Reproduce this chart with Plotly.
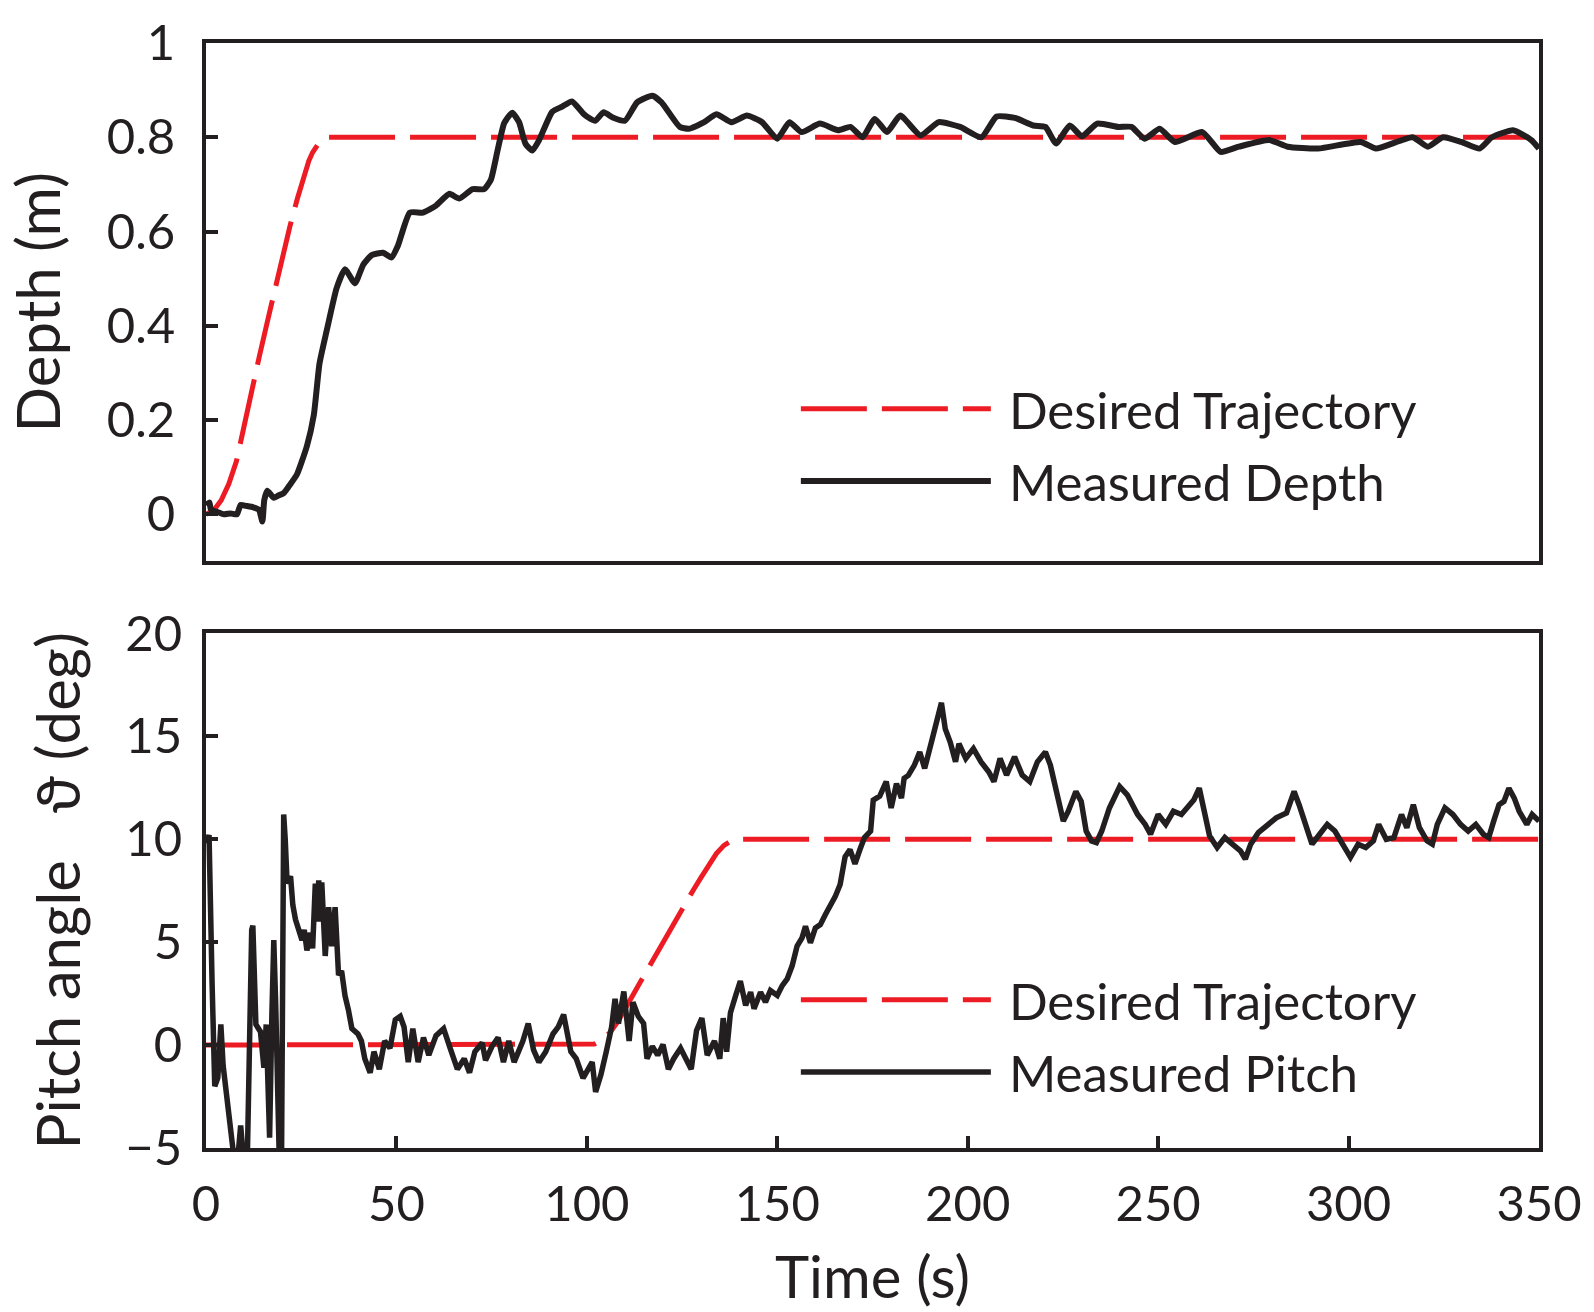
import plotly.graph_objects as go

# ---------------- data ----------------
depth_ref_t = [0, 2, 4, 6, 8, 10, 12, 14, 16, 18, 20, 22, 24, 25, 26, 27, 28, 29, 30, 31, 32, 350]
depth_ref_v = [0, 0.008, 0.03, 0.065, 0.113, 0.19, 0.265, 0.335, 0.405, 0.475, 0.545, 0.61, 0.67,
               0.70, 0.728, 0.75, 0.768, 0.782, 0.792, 0.797, 0.8, 0.8]

depth_measured = [
    (0, 0.02), (0.9, 0.025), (1.3, 0.01), (3, 0.005), (4.7, 0.0), (6.5, 0.002), (8.1, 0.0),
    (9.1, 0.02), (10.5, 0.018), (12.4, 0.015), (13.9, 0.01), (14.8, -0.015), (15.3, 0.03),
    (16.1, 0.05), (17.8, 0.035), (19, 0.04), (20.4, 0.045), (21.8, 0.06), (23.9, 0.085),
    (26.5, 0.145), (28.3, 0.21), (29.8, 0.32), (31.7, 0.39), (34.3, 0.48), (36.5, 0.52),
    (39.1, 0.49), (41.3, 0.53), (43.5, 0.55), (46.5, 0.555), (48.7, 0.545), (50.4, 0.57),
    (53.5, 0.64), (57, 0.64), (60.4, 0.655), (63.9, 0.68), (66.5, 0.67), (70, 0.69),
    (73, 0.69), (74.8, 0.71), (76.5, 0.77), (78.3, 0.83), (80.4, 0.852), (82.2, 0.832),
    (83.9, 0.786), (85.7, 0.772), (87.4, 0.793), (90.9, 0.854), (93.5, 0.865), (96.1, 0.876),
    (99.1, 0.85), (100.4, 0.842), (102.2, 0.835), (104.4, 0.853), (106.8, 0.842), (110, 0.835),
    (113.2, 0.874), (117.2, 0.888), (119.6, 0.874), (124.4, 0.822), (126.8, 0.818),
    (130.8, 0.832), (134, 0.849), (138, 0.832), (142, 0.846), (146, 0.832), (150, 0.797),
    (153.2, 0.832), (156.4, 0.811), (161.2, 0.829), (166, 0.815), (169.2, 0.822), (172.4, 0.8),
    (175.6, 0.839), (178.8, 0.811), (182.3, 0.846), (187.6, 0.804), (192.4, 0.832),
    (198, 0.822), (203.6, 0.8), (207.6, 0.844), (212.4, 0.841), (217.2, 0.825), (220.4, 0.822),
    (223.2, 0.787), (226.8, 0.825), (230, 0.802), (234, 0.829), (239.6, 0.822), (243, 0.822),
    (246.4, 0.797), (250.4, 0.818), (254.4, 0.79), (261.6, 0.811), (266.4, 0.769),
    (271.2, 0.78), (279.2, 0.794), (284, 0.78), (292, 0.776), (303.2, 0.79), (307.2, 0.776),
    (316.8, 0.8), (320.8, 0.78), (324.8, 0.8), (329.6, 0.79), (334.4, 0.776), (337.6, 0.8),
    (343.2, 0.815), (348, 0.794), (350, 0.776),
]

pitch_ref_t = [0, 100, 102, 104, 106, 108, 110, 112, 114, 116, 118, 120, 122, 124, 126, 128, 130, 132, 134, 136, 138, 140, 350]
pitch_ref_v = [0, 0, 0.05, 0.25, 0.6, 1.1, 1.8, 2.4, 3.05, 3.7, 4.4, 5.05, 5.7, 6.35, 6.95, 7.55, 8.15, 8.75, 9.3, 9.7, 9.93, 10, 10]

pitch_measured = [
    (0, 9.8), (0.8, 10.2), (1.6, 3.0), (2.3, -2.0), (3.1, -1.6), (3.9, 1.0), (4.5, -1.0),
    (4.9, -1.7), (5.7, -3.2), (6.5, -4.2), (7.2, -5.6), (7.8, -6.2), (8.5, -5.2), (9.1, -3.9),
    (9.6, -5.0), (10.2, -6.5), (10.8, -6.0), (11.3, 0.0), (12.0, 5.6), (12.3, 5.8), (12.7, 3.0),
    (13.1, 1.0), (14.3, 0.65), (15.2, -1.1), (15.8, 1.0), (16.7, -4.5), (17.3, 1.5),
    (17.8, 5.1), (18.3, 2.0), (18.7, -3.2), (19.3, -6.0), (19.8, -6.5), (20.1, 0.0),
    (20.4, 11.2), (20.8, 10.0), (21.3, 7.85), (22.2, 8.2), (22.8, 6.8), (23.5, 6.1),
    (24.3, 5.5), (25.2, 5.1), (25.8, 5.6), (26.5, 4.6), (27.4, 5.45), (28.0, 4.7),
    (28.7, 7.85), (29.1, 6.0), (29.6, 8.0), (30.0, 6.0), (30.4, 7.9), (30.9, 5.5),
    (31.3, 4.33), (32.2, 6.7), (33.0, 4.8), (33.9, 6.7), (34.8, 3.4), (35.6, 3.6),
    (36.5, 2.4), (37.4, 1.7), (38.3, 0.8), (39.9, 0.54), (40.8, 0.2), (41.7, -0.66),
    (43.1, -1.34), (44.1, -0.32), (45.5, -1.17), (46.9, 0.2), (48.3, -0.15), (49.7, 1.23),
    (51.0, 1.4), (52.0, 0.88), (53.1, -0.83), (54.3, 0.8), (55.7, -0.83), (57.1, 0.37),
    (58.5, -0.49), (60.4, 0.46), (62.4, 0.8), (64.1, -0.15), (66.0, -1.17), (67.8, -0.66),
    (69.2, -1.34), (70.6, -0.32), (72.5, 0.11), (73.4, -0.74), (75.1, -0.06), (76.7, 0.37),
    (78.1, -0.83), (79.5, 0.2), (80.9, -0.83), (83.2, 0.2), (84.6, 1.05), (86.0, -0.23),
    (87.4, -0.83), (89.2, -0.32), (91.1, 0.54), (92.5, 0.88), (93.9, 1.48), (95.8, -0.32),
    (97.2, -0.66), (99.0, -1.6), (100.4, -1.17), (101.4, -0.83), (102.3, -2.28),
    (103.7, -1.43), (105.1, -0.32), (106.5, 0.88), (107.4, 2.25), (108.3, 1.05),
    (109.7, 2.6), (111.1, 0.2), (112.1, 2.08), (113.5, 1.4), (114.9, 1.05), (115.8, -0.66),
    (117.2, -0.06), (118.6, -0.49), (120.0, 0.03), (121.4, -1.17), (122.8, -0.66),
    (124.6, -0.15), (126.0, -0.66), (127.4, -1.17), (128.8, 0.71), (130.2, 1.31),
    (131.6, -0.49), (133.5, 0.2), (134.9, -0.66), (135.8, 1.31), (136.7, -0.32),
    (137.7, 1.57), (139.1, 2.42), (140.3, 3.11), (141.7, 1.93), (143.0, 2.57), (143.9, 1.77),
    (145.6, 2.57), (146.9, 2.09), (148.2, 2.65), (150.0, 2.41), (151.3, 2.89), (152.6, 3.21),
    (153.9, 3.85), (155.2, 4.81), (156.5, 5.21), (157.4, 5.77), (158.7, 4.97), (160.0, 5.69),
    (161.3, 5.85), (162.6, 6.33), (163.9, 6.73), (165.2, 7.21), (166.5, 7.8), (167.8, 9.15),
    (169.1, 9.5), (170.4, 8.8), (171.7, 9.5), (172.9, 10.08), (174.5, 10.4), (175.2, 11.9),
    (176.9, 12.1), (178.6, 12.8), (179.9, 11.52), (181.3, 12.7), (182.6, 12.0),
    (183.3, 12.96), (184.4, 13.1), (186.0, 13.6), (187.4, 14.24), (188.7, 13.44),
    (190.7, 14.88), (192.1, 15.84), (193.1, 16.63), (194.1, 15.36), (195.4, 14.72),
    (196.8, 13.76), (197.7, 14.64), (199.5, 13.92), (201.5, 14.4), (203.5, 13.76),
    (205.5, 13.28), (206.9, 12.8), (208.5, 13.92), (210.2, 13.12), (212.3, 14.0),
    (214.3, 13.12), (216.3, 12.8), (218.3, 13.76), (220.4, 14.24), (221.7, 13.6),
    (223.7, 12.0), (225.1, 10.88), (226.4, 11.36), (228.4, 12.32), (229.8, 11.84),
    (231.1, 10.4), (232.5, 9.92), (233.8, 9.84), (235.2, 10.4), (237.2, 11.52),
    (239.9, 12.56), (241.9, 12.16), (244.6, 11.2), (246.6, 10.72), (248.0, 10.24),
    (250.0, 11.2), (252.0, 10.72), (254.0, 11.36), (256.1, 11.2), (258.1, 11.68),
    (259.4, 11.92), (260.8, 12.48), (262.1, 11.2), (263.5, 10.16), (265.5, 9.6),
    (267.5, 10.08), (269.5, 9.76), (271.6, 9.44), (272.9, 9.04), (274.3, 9.76),
    (276.3, 10.32), (278.3, 10.64), (281.0, 11.04), (283.7, 11.28), (285.7, 12.32),
    (287.0, 11.68), (288.4, 10.88), (290.4, 9.76), (292.4, 10.24), (294.4, 10.72),
    (296.4, 10.4), (298.4, 9.76), (300.5, 9.12), (302.5, 9.76), (304.5, 9.6), (306.5, 9.92),
    (307.9, 10.72), (309.9, 10.0), (311.9, 10.08), (313.9, 11.2), (315.3, 10.56),
    (317.0, 11.68), (318.6, 10.56), (320.6, 9.92), (322.0, 9.76), (323.3, 10.72),
    (325.3, 11.52), (327.4, 11.2), (329.4, 10.72), (331.4, 10.4), (333.4, 10.72),
    (335.4, 10.24), (336.8, 10.08), (338.1, 10.88), (339.5, 11.68), (340.8, 11.84),
    (342.1, 12.48), (343.5, 12.0), (344.8, 11.36), (346.8, 10.72), (348.2, 11.2),
    (350.0, 10.88),
]

x_ticks = [0, 50, 100, 150, 200, 250, 300, 350]
depth_ticks = [0, 0.2, 0.4, 0.6, 0.8, 1]
depth_tick_text = ["0", "0.2", "0.4", "0.6", "0.8", "1"]
pitch_ticks = [-5, 0, 5, 10, 15, 20]

# ---------------- styling ----------------
FONT = "Lato"
TICK_FS = 49
LEG_FS = 51
YTITLE_FS = 60
XTITLE_FS = 58
RED = "#ed1c24"
BLACK = "#231f20"
DASH = "66px,15px"
PAD = "\u00a0"

fig = go.Figure()

fig.add_trace(go.Scatter(
    x=depth_ref_t, y=depth_ref_v, mode="lines", name=PAD + "Desired Trajectory",
    line=dict(color=RED, width=5, dash=DASH),
    xaxis="x", yaxis="y", legend="legend", legendgroup="a"))
fig.add_trace(go.Scatter(
    x=[p[0] for p in depth_measured], y=[p[1] for p in depth_measured], mode="lines",
    name=PAD + "Measured Depth", line=dict(color=BLACK, width=6, shape="spline", smoothing=0.5),
    xaxis="x", yaxis="y", legend="legend", legendgroup="b"))

fig.add_trace(go.Scatter(
    x=pitch_ref_t, y=pitch_ref_v, mode="lines", name=PAD + "Desired Trajectory",
    line=dict(color=RED, width=5, dash=DASH),
    xaxis="x2", yaxis="y2", legend="legend2", legendgroup="c"))
fig.add_trace(go.Scatter(
    x=[p[0] for p in pitch_measured], y=[p[1] for p in pitch_measured], mode="lines",
    name=PAD + "Measured Pitch", line=dict(color=BLACK, width=5.5),
    xaxis="x2", yaxis="y2", legend="legend2", legendgroup="d"))

axis_common = dict(
    showline=True, linecolor=BLACK, linewidth=4, mirror=True,
    showgrid=False, zeroline=False,
    tickfont=dict(family=FONT, size=TICK_FS, color=BLACK),
)

legend_common = dict(
    font=dict(family=FONT, size=LEG_FS, color=BLACK),
    bgcolor="rgba(0,0,0,0)", itemwidth=190, tracegroupgap=3,
    xanchor="left", yanchor="top",
)

fig.update_layout(
    width=1594, height=1312,
    margin=dict(l=206, r=47, t=31, b=160),
    plot_bgcolor="white", paper_bgcolor="white",
    font=dict(family=FONT, size=TICK_FS, color=BLACK),
    xaxis=dict(axis_common, domain=[0, 1], anchor="y", range=[0, 350],
               ticks="", showticklabels=False),
    yaxis=dict(axis_common, domain=[0.5308, 1], anchor="x", range=[-0.1, 1],
               tickvals=depth_ticks, ticktext=depth_tick_text,
               ticks="inside", ticklen=12, tickwidth=4, tickcolor=BLACK,
               ticklabelstandoff=17,
               title=dict(text="Depth (m)", font=dict(family=FONT, size=YTITLE_FS, color=BLACK), standoff=28)),
    xaxis2=dict(axis_common, domain=[0, 1], anchor="y2", range=[0, 350],
                tickvals=x_ticks, ticks="inside", ticklen=12, tickwidth=4, tickcolor=BLACK,
                ticklabelstandoff=10,
                title=dict(text="Time (s)", font=dict(family=FONT, size=XTITLE_FS, color=BLACK), standoff=29)),
    yaxis2=dict(axis_common, domain=[0, 0.4657], anchor="x2", range=[-5, 20],
                tickvals=pitch_ticks, ticks="inside", ticklen=12, tickwidth=4, tickcolor=BLACK,
                ticklabelstandoff=10,
                title=dict(text="Pitch angle   \u03d1 (deg)", font=dict(family=FONT, size=YTITLE_FS, color=BLACK), standoff=26)),
    legend=dict(legend_common, x=0.4425, y=0.705),
    legend2=dict(legend_common, x=0.4425, y=0.170),
    showlegend=True,
)

fig.write_html("out.html")
